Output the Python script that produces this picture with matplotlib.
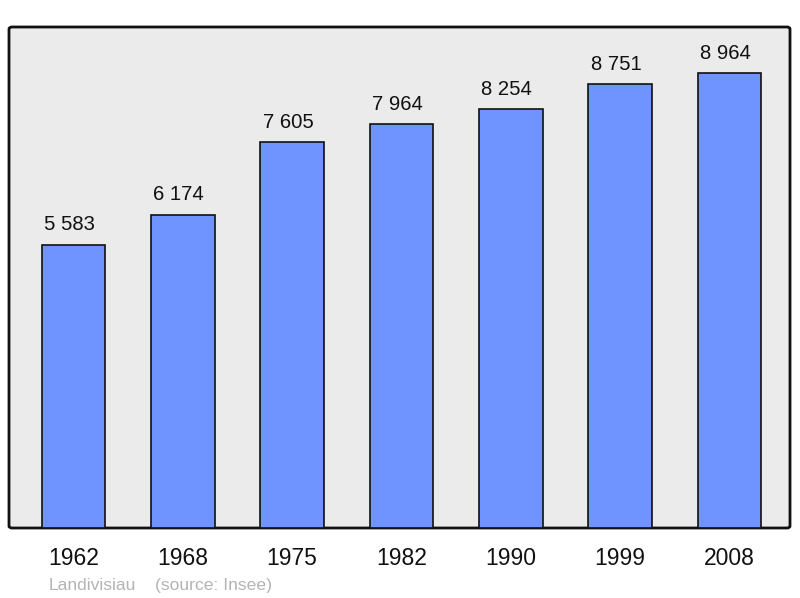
import matplotlib
matplotlib.use("Agg")
import matplotlib.pyplot as plt
from matplotlib.patches import FancyBboxPatch

years = ["1962", "1968", "1975", "1982", "1990", "1999", "2008"]
population = [5583, 6174, 7605, 7964, 8254, 8751, 8964]
labels = ["5 583", "6 174", "7 605", "7 964", "8 254", "8 751", "8 964"]

plt.rcParams['font.family'] = ['Liberation Sans', 'DejaVu Sans']

fig = plt.figure(figsize=(8, 5.98), dpi=100)
ax = fig.add_axes([9/800, 70/598, 781/800, 501/598])
ax.set_facecolor('none')
for s in ax.spines.values():
    s.set_visible(False)

bg = FancyBboxPatch((0, 0), 1, 1, boxstyle="round,pad=0,rounding_size=0.004",
                    transform=ax.transAxes, facecolor='#ebebeb', edgecolor='#111111',
                    linewidth=2, clip_on=False, zorder=0)
ax.add_patch(bg)

x = list(range(len(years)))
ax.bar(x, population, width=0.58, color='#7094ff', edgecolor='#111111', linewidth=1.2, zorder=2)
for xi, v, lab in zip(x, population, labels):
    ax.text(xi - 0.037, v + 280, lab, ha='center', va='baseline', fontsize=14.6, color='#111111', zorder=3)

ax.set_xlim(-0.59, 6.553)
ax.set_ylim(0, 9870)
ax.set_yticks([])
ax.set_xticks(x)
ax.set_xticklabels(years, fontsize=16.5)
ax.tick_params(axis='x', length=0, pad=14, colors='#111111')

fig.text(49/800, 1 - 590/598, "Landivisiau", fontsize=12.6, color='#b4b4b4', va='baseline', ha='left')
fig.text(155/800, 1 - 590/598, "(source: Insee)", fontsize=12.6, color='#b4b4b4', va='baseline', ha='left')

fig.savefig("out.png", dpi=100)
